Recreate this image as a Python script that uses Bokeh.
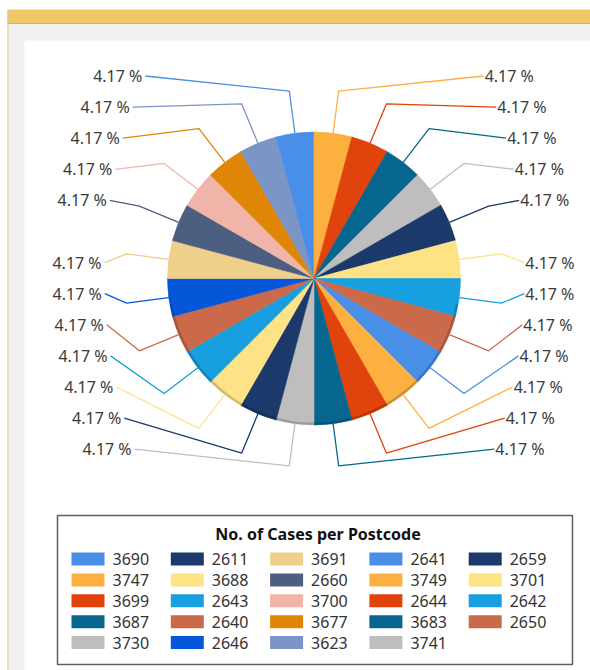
import math
from bokeh.plotting import figure
from bokeh.models import Range1d, ColumnDataSource
from bokeh.core.properties import value
from bokeh.embed import file_html
from bokeh.resources import INLINE

# ---------------- data ----------------
postcodes = ["3690", "3747", "3699", "3687", "3730", "2611", "3688", "2643",
             "2640", "2646", "3691", "2660", "3700", "3677", "3623", "2641",
             "3749", "2644", "3683", "3741", "2659", "3701", "2642", "2650"]
cases = [1, 1, 1, 1, 1, 1, 1, 1, 1, 1, 1, 1,
         1, 1, 1, 1, 1, 1, 1, 1, 1, 1, 1, 1]
colors = ["#4a8fe7", "#fbb040", "#e0430b", "#06668e", "#bebebe", "#1b3a6b",
          "#fde386", "#189fdf", "#cb6a4b", "#0357d8", "#eed08b", "#4d5f80",
          "#f0b5a8", "#e08607", "#7b96c6", "#4a8fe7", "#fbb040", "#e0430b",
          "#06668e", "#bebebe", "#1b3a6b", "#fde386", "#189fdf", "#cb6a4b"]
legend_title = "No. of Cases per Postcode"

# ---------------- layout ----------------
FONT = "Noto Sans"
W, H = 590, 670
START_CW = 120.0          # first slice starts 120 deg clockwise from 12 o'clock
CX, CY, R, RE = 313.5, -278.0, 146.5, 189.0

p = figure(width=W, height=H, x_range=Range1d(0, W), y_range=Range1d(-H, 0),
           output_backend="svg", toolbar_location=None, min_border=0,
           x_axis_type=None, y_axis_type=None)
p.grid.visible = False
p.outline_line_color = None
p.background_fill_color = "white"
p.border_fill_color = "white"

# window frame
p.quad(left=7, right=W, top=-23, bottom=-H, fill_color="#f0f0f0", line_color=None)
p.quad(left=7, right=W, top=-9, bottom=-23, fill_color="#efc866", line_color=None)
p.segment(x0=7, y0=-23, x1=W, y1=-23, line_color="#d8b25a", line_width=1)
p.quad(left=7, right=8, top=-9, bottom=-H, fill_color="#e3c48e", line_color=None)
p.quad(left=24, right=W, top=-40, bottom=-H, fill_color="white", line_color=None)

# pie
total = float(sum(cases))
starts, ends, mids = [], [], []
cum = 0.0
for v in cases:
    s_cw = START_CW + 360.0 * cum / total
    e_cw = START_CW + 360.0 * (cum + v) / total
    starts.append(math.radians(90.0 - e_cw))
    ends.append(math.radians(90.0 - s_cw))
    mids.append(((s_cw + e_cw) / 2.0) % 360.0)
    cum += v

src = ColumnDataSource(dict(start=starts, end=ends, color=colors))
p.wedge(x=CX, y=CY, radius=R, start_angle="start", end_angle="end",
        direction="anticlock", fill_color="color", line_color="color",
        line_width=0.6, source=src)
# subtle 3D rim at the lower edge
p.arc(x=CX, y=CY, radius=R - 1.2, start_angle=math.radians(190), end_angle=math.radians(350),
      line_color="black", line_alpha=0.18, line_width=2.5)

# labels with leader lines
pct = ["%.2f %%" % (100.0 * v / total) for v in cases]
right = sorted([i for i in range(len(cases)) if mids[i] < 180], key=lambda i: mids[i])
left = sorted([i for i in range(len(cases)) if mids[i] >= 180], key=lambda i: -mids[i])

lx, ly, lt, la = [], [], [], []
mxs, mys, mcs = [], [], []
for side, idxs in (("R", right), ("L", left)):
    for k, i in enumerate(idxs):
        slot = k if k < 5 else k + 1
        yl = -(75.5 + 31.1 * slot)
        dy = (yl + 275.0)
        xo = 212.0 * math.sqrt(max(0.0, 1.0 - (dy / 338.0) ** 2))
        th = math.radians(mids[i])
        sx, sy = CX + R * math.sin(th), CY + R * math.cos(th)
        ex, ey = CX + RE * math.sin(th), CY + RE * math.cos(th)
        if side == "R":
            tx = 313.0 + xo
            endx = tx - 1
            la.append("left")
        else:
            tx = 313.0 - xo
            endx = tx + 3
            la.append("right")
        lx.append(tx); ly.append(yl); lt.append(pct[i])
        mxs.append([sx, ex, endx]); mys.append([sy, ey, yl]); mcs.append(colors[i])

p.multi_line(xs=mxs, ys=mys, line_color=mcs, line_width=1.3)
p.text(x=lx, y=ly, text=lt, text_align=la, text_baseline="middle",
       text_font=value(FONT), text_font_size="16px", text_color="#3a3a3a")

# legend box
p.quad(left=57, right=572, top=-515, bottom=-664, fill_color="white",
       line_color="#5f5f5f", line_width=1.5)
p.text(x=[317.5], y=[-533], text=[legend_title], text_align="center", text_baseline="middle",
       text_font=value(FONT), text_font_size="16px", text_font_style="bold",
       text_color="#111111")
sw_l, sw_r, sw_y, tx_x, tx_y = [], [], [], [], []
for i, pc in enumerate(postcodes):
    col, row = i // 5, i % 5
    x0 = 71 + 99.3 * col
    yc = -(558.5 + 20.9 * row)
    sw_l.append(x0); sw_r.append(x0 + 33); sw_y.append(yc)
    tx_x.append(x0 + 41); tx_y.append(yc)
p.quad(left=sw_l, right=sw_r, top=[y + 6.5 for y in sw_y], bottom=[y - 6.5 for y in sw_y],
       fill_color=colors, line_color=None)
p.text(x=tx_x, y=tx_y, text=postcodes, text_align="left", text_baseline="middle",
       text_font=value(FONT), text_font_size="16px", text_color="#333333")

open("out.html", "w").write(file_html(p, INLINE))
